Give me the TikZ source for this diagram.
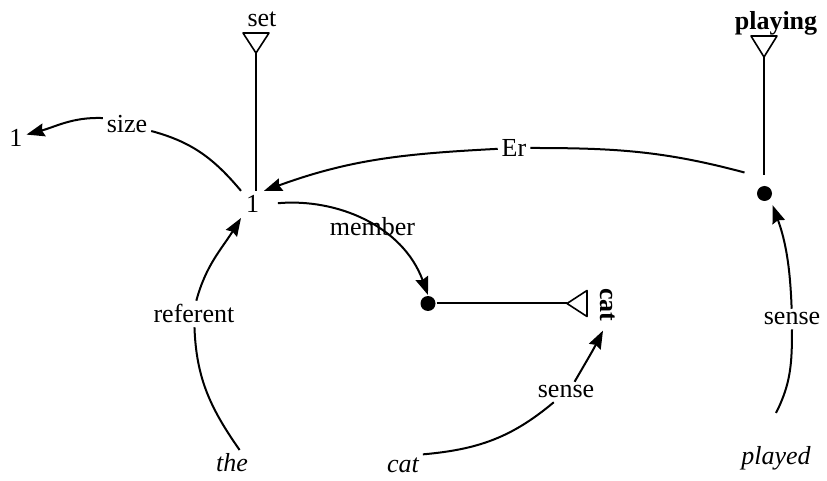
\documentclass[tikz,border=0pt]{standalone}
\usepackage{fontspec}
\setmainfont{Liberation Serif}
\usepackage{tkz-euclide}
\usetikzlibrary{arrows.meta}
\tikzset{>={Stealth[length=9pt,width=6.5pt,inset=1pt]}}
\tikzset{
    word/.style={font=\fontsize{13}{15}\selectfont, inner sep=1.5pt, anchor=base},
    bword/.style={font=\fontsize{13}{15}\selectfont\bfseries, inner sep=1.5pt},
    iword/.style={font=\fontsize{13}{15}\selectfont\itshape, inner sep=1.5pt, anchor=base},
    blob/.style={circle, fill, inner sep=0pt, minimum size=7.5pt}
}

\begin{document}
\begin{tikzpicture}[x=0.5pt, y=-0.5pt, line width=1pt]
    \useasboundingbox (0,0) rectangle (827,481);
    \tkzDefPoints{256/53/S, 243/33/S1, 269/33/S2, 764/57/P, 751/36/P1, 777/36/P2, 567/303.5/C, 587/290.5/C1, 587/316.5/C2}
    \tkzDrawPolygon[line width=0.8pt](S,S1,S2)
    \tkzDrawPolygon[line width=0.8pt](P,P1,P2)
    \tkzDrawPolygon[line width=0.8pt](C,C1,C2)
    % words
    \node[word] (set) at (262,26.5) {set};
    \node[bword, anchor=base] (playing) at (776,30) {playing};
    \node[word, inner sep=2pt] (one) at (252.5,213) {1};
    \node[word] (oneL) at (16,147) {1};
    \node[blob] (dotP) at (764.5,193.5) {};
    \node[blob] (dotC) at (428,303.5) {};
    \node[bword, rotate=-90] (catB) at (608,305) {cat};
    \node[iword] (the) at (232,472) {the};
    \node[iword] (catI) at (403,473) {cat};
    \node[iword] (played) at (776,465) {played};
    % labels
    \node[word] (size) at (127,133) {size};
    \node[word] (Er) at (514,156.5) {Er};
    \node[word] (referent) at (194,323) {referent};
    \node[word] (senseC) at (566,398) {sense};
    \node[word] (senseP) at (792,325) {sense};
    % links
    \draw (S) -- (S |- one.north);
    \draw[shorten >=5pt] (P) -- (P |- dotP.north);
    \draw (dotC.east) -- (C);
    \draw (one.north west) to[out=130,in=-15] (size);
    \draw[->] (size.165) to[out=178,in=15] (oneL.20);
    \draw ([shift={(-20,-21)}]dotP.center) to[out=165,in=0] (Er);
    \draw[->] (Er) to[out=183,in=20] (one.north east);
    \draw[->, shorten <=7pt] (one.east) to[out=5,in=110]
        node[word, anchor=center, pos=0.55] {member} (dotC.north);
    \draw (the.60) to[out=125,in=-88] (referent);
    \draw[->] (referent.80) to[out=75,in=238] (one.south west);
    \draw (catI.north east) to[out=5,in=220] (senseC);
    \draw[->] (senseC.50) to[out=60,in=243] ([shift={(-5,5)}]catB.east);
    \draw ([shift={(0,-30)}]played.north) to[out=63,in=-90] (senseP);
    \draw[->, shorten >=3pt] (senseP) to[out=92,in=-70] (dotP.-45);
\end{tikzpicture}
\end{document}
